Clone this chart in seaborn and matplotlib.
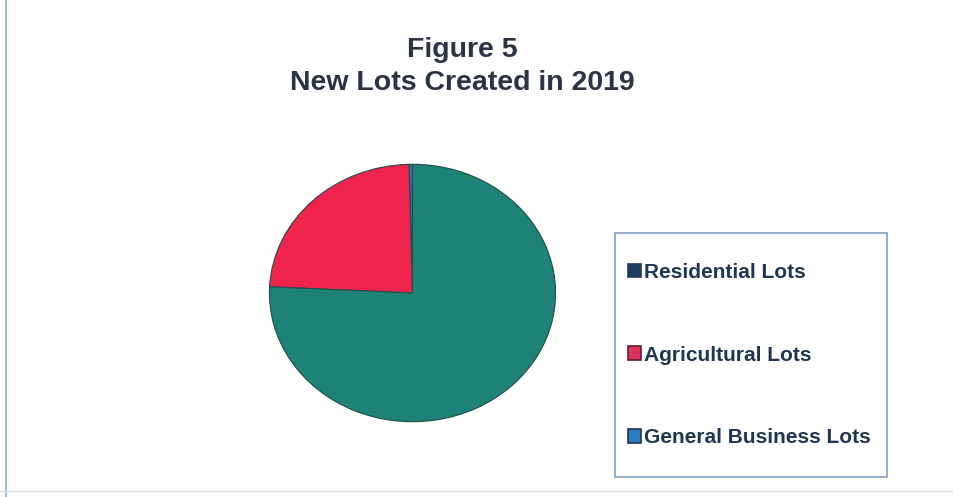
import matplotlib
matplotlib.use("Agg")
import matplotlib.pyplot as plt
from matplotlib.patches import Patch, Rectangle
from matplotlib.lines import Line2D
import seaborn as sns

# Lots created in 2019, by type
categories = ["Residential Lots", "Agricultural Lots", "General Business Lots"]
lot_counts = [1, 62, 197]

slice_colors = ["#4a66b0", "#f0234c", "#1f8276"]
legend_colors = ["#1f3a5c", "#e03058", "#2c7cc0"]
legend_edges = ["#1f3a5c", "#5a1f32", "#1f3550"]

sns.set_theme(style="white")
plt.rcParams["font.family"] = ["Liberation Sans", "DejaVu Sans"]

W, H = 954, 497
fig = plt.figure(figsize=(W / 100, H / 100), dpi=100)
fig.patch.set_facecolor("white")

# Elliptical pie area
px0, py0, pw, ph = 268, 163, 289, 260
ax = fig.add_axes([px0 / W, 1 - (py0 + ph) / H, pw / W, ph / H])
ax.pie(lot_counts, colors=slice_colors, startangle=90, counterclock=True,
       wedgeprops=dict(edgecolor="#1e4d4a", linewidth=0.8))
ax.set_aspect("auto")
ax.set_xlim(-1.01, 1.01)
ax.set_ylim(-1.01, 1.01)
ax.axis("off")

# Title
title_color = "#2b3344"
fig.text(462 / W, 1 - 50 / H, "Figure 5", ha="center", va="center",
         fontsize=20.5, fontweight="bold", color=title_color)
fig.text(462 / W, 1 - 83 / H, "New Lots Created in 2019", ha="center", va="center",
         fontsize=20.5, fontweight="bold", color=title_color)

# Legend box
lx0, ly0, lx1, ly1 = 615, 233, 887, 477
fig.add_artist(Rectangle((lx0 / W, 1 - ly1 / H), (lx1 - lx0) / W, (ly1 - ly0) / H,
                         transform=fig.transFigure, facecolor="white",
                         edgecolor="#8aa8c0", linewidth=1.3, zorder=1))

# Legend entries
handles = [Patch(facecolor=c, edgecolor=e, linewidth=1.2)
           for c, e in zip(legend_colors, legend_edges)]
leg = fig.legend(handles, categories, loc="upper left",
                 bbox_to_anchor=(628 / W, 1 - 263 / H),
                 fontsize=15, frameon=False,
                 handlelength=0.62, handleheight=0.62, handletextpad=0.15,
                 labelspacing=3.05, borderpad=0, borderaxespad=0)
leg.set_zorder(2)
for t in leg.get_texts():
    t.set_color("#1f3550")
    t.set_fontweight("bold")

# Page border lines
fig.add_artist(Line2D([6 / W, 6 / W], [0, 1], color="#7fb3d0", linewidth=1.2))
fig.add_artist(Line2D([0, 1], [1 - 491 / H, 1 - 491 / H], color="#d8dde2", linewidth=1.0))

fig.savefig("out.png", dpi=100, facecolor="white")
